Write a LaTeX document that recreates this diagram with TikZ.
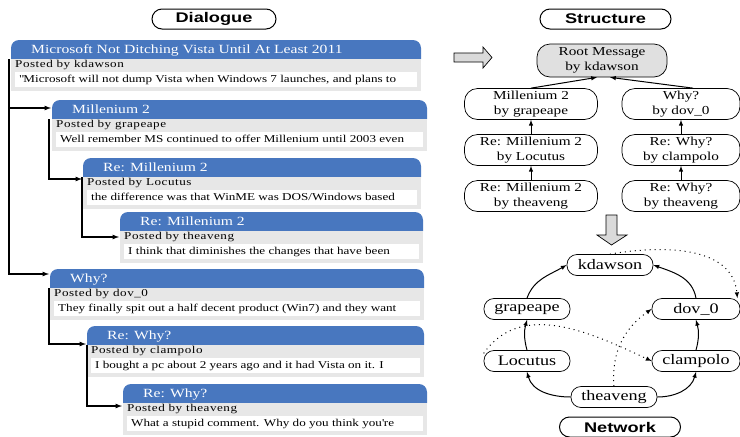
\documentclass[tikz,border=0pt]{standalone}
\usepackage{fontspec}
\setmainfont{Liberation Serif}[FakeStretch=1.25]
\newfontfamily\titlefont{Liberation Sans}[FakeStretch=1.3]
\newfontfamily\byfont{Liberation Serif}[FakeStretch=1.25,LetterSpace=5]
\usepackage{xcolor}
\usepackage{tikz}
\usetikzlibrary{arrows,calc,positioning}

\definecolor{hdblue}{RGB}{72,119,191}
\definecolor{bodygrey}{RGB}{231,231,231}
\definecolor{rootgrey}{RGB}{224,224,224}
\definecolor{arrowgrey}{RGB}{218,218,218}

\begin{document}
\begin{tikzpicture}[x=1pt,y=1pt,
	title/.style={draw,line width=1pt,rounded corners=10pt,minimum height=20,inner sep=0pt,font=\titlefont\bfseries\fontsize{14}{16}\selectfont},
	hdtext/.style={text=white,inner sep=0pt,font=\fontsize{12.5}{14}\selectfont},
	bytext/.style={inner sep=0pt,font=\byfont\fontsize{10.5}{12}\selectfont},
	msgtext/.style={inner sep=0pt,font=\fontsize{10.5}{12}\selectfont},
	body/.style={fill=bodygrey,inner sep=0pt,minimum height=32},
	reply/.style={-latex,line width=1.2pt},
	snode/.style={draw,line width=0.7pt,rounded corners=13pt,align=center,minimum height=31,minimum width=133,inner sep=1pt,font=\fontsize{12.2}{14.5}\selectfont},
	nnode/.style={draw,line width=0.7pt,rounded corners=10pt,minimum height=21,minimum width=86,inner sep=1pt,font=\fontsize{14.5}{16}\selectfont},
	tree/.style={-latex,line width=1pt},
	net/.style={-latex,line width=1pt},
	talk/.style={-latex,line width=1pt,dash pattern=on 1pt off 4pt},
	hollow/.style={draw,fill=arrowgrey,line width=0.7pt}]
	\useasboundingbox (0,0) rectangle (740,-437);

	% titles
	\node[title,minimum width=124] (dlg) at (214,-19) {Dialogue};
	\node[title,minimum width=131] (str) at (605.5,-19) {Structure};
	\node[title,minimum width=121] (netw) at (620,-427) {Network};

	% dialogue posts
	\foreach \k/\xl/\yt/\xr/\ya/\ttl/\who/\txt in {
	  1/11/40/421/0/{Microsoft Not Ditching Vista Until At Least 2011}/kdawson/{\textquotedbl Microsoft will not dump Vista when Windows 7 launches, and plans to},
	  2/52/100/427/108/{Millenium 2}/grapeape/{Well remember MS continued to offer Millenium until 2003 even},
	  3/83/158/421/179/{Re: Millenium 2}/Locutus/{the difference was that WinME was DOS/Windows based},
	  4/120/212/423/237/{Re: Millenium 2}/theaveng/{I think that diminishes the changes that have been},
	  5/50/269/424/274/{Why?}/dov\_0/{They finally spit out a half decent product (Win7) and they want},
	  6/87/326/424/344/{Re: Why?}/clampolo/{I bought a pc about 2 years ago and it had Vista on it. I},
	  7/123/384/427/406/{Re: Why?}/theaveng/{What a stupid comment. Why do you think you\textquotesingle re}}
	{
	  \fill[hdblue,rounded corners=8pt] (\xl,-\yt) rectangle (\xr,-\yt-27);
	  \node[body,anchor=north west,minimum width=\xr-\xl] (b\k) at (\xl,-\yt-19) {};
	  \fill[white] (\xl+4,-\yt-32) rectangle (\xr-4,-\yt-46.5);
	  \node[hdtext,anchor=base west] (h\k) at (\xl+20,-\yt-13.5) {\ttl};
	  \node[bytext,anchor=base west] (p\k) at (\xl+4,-\yt-27) {Posted by \who};
	  \node[msgtext,anchor=base west] (m\k) at (\xl+8,-\yt-42.5) {\txt};
	  \coordinate (in\k) at (\xl-1,-\ya);
	}
	\draw[reply] ([xshift=-2pt]b1.north west) |- (in2);
	\draw[reply] ([xshift=-2pt]b1.north west) |- (in5);
	\draw[reply] ([xshift=-3pt]b2.north west) |- (in3);
	\draw[reply] ([xshift=-1pt]b3.north west) |- (in4);
	\draw[reply] ([xshift=-1pt]b5.north west) |- (in6);
	\draw[reply] (b6.north west) |- (in7);

	% big arrows
	\draw[hollow] (454,-53) -- (483,-53) -- (483,-47) -- (492,-57.5) -- (483,-68) -- (483,-62) -- (454,-62) -- cycle;
	\draw[hollow] (606,-215) -- (617,-215) -- (617,-235) -- (627,-235) -- (611.5,-245) -- (597,-235) -- (606,-235) -- cycle;

	% structure
	\node[snode,fill=rootgrey,minimum width=130,minimum height=33] (root) at (602,-60.5) {Root Message\\by kdawson};
	\node[snode] (mil) at (531,-104) {Millenium 2\\by grapeape};
	\node[snode] (milloc) at (531,-150) {Re: Millenium 2\\by Locutus};
	\node[snode] (milthe) at (531,-196) {Re: Millenium 2\\by theaveng};
	\node[snode,minimum width=118] (why) at (681,-104) {Why?\\by dov\_0};
	\node[snode,minimum width=118] (whycla) at (681,-150) {Re: Why?\\by clampolo};
	\node[snode,minimum width=118] (whythe) at (681,-196) {Re: Why?\\by theaveng};
	\draw[tree] (mil.north) -- ([xshift=-5pt]root.south);
	\draw[tree] ([xshift=12pt]why.north) -- ([xshift=8pt]root.south);
	\draw[tree] (milloc) -- (mil);
	\draw[tree] (milthe) -- (milloc);
	\draw[tree] (whycla) -- (why);
	\draw[tree] (whythe) -- (whycla);

	% network
	\node[nnode] (kd) at (610,-265) {kdawson};
	\node[nnode] (gp) at (527,-309) {grapeape};
	\node[nnode,minimum width=88] (dv) at (696,-309) {dov\_0};
	\node[nnode] (lc) at (527,-361) {Locutus};
	\node[nnode,minimum width=88] (cl) at (696,-361) {clampolo};
	\node[nnode] (th) at (614,-397) {theaveng};
	\draw[net] (gp.north) to[out=70,in=210] (kd.west);
	\draw[net] (dv.north) to[out=100,in=-20] (kd.east);
	\draw[net] (lc.north) to[bend left=15] (gp.south);
	\draw[net] (cl.north) to[bend right=15] (dv.south);
	\draw[net] (th.west) to[out=180,in=-75] (lc.south);
	\draw[net] (th.east) to[out=0,in=-105] (cl.south);
	\draw[talk] (kd.north) to[out=10,in=95] ([xshift=-3pt]dv.north east);
	\draw[talk] (lc.170) to[out=55,in=155] (cl.west);
	\draw[talk] (th.north) to[out=95,in=215] (dv.west);
\end{tikzpicture}
\end{document}
